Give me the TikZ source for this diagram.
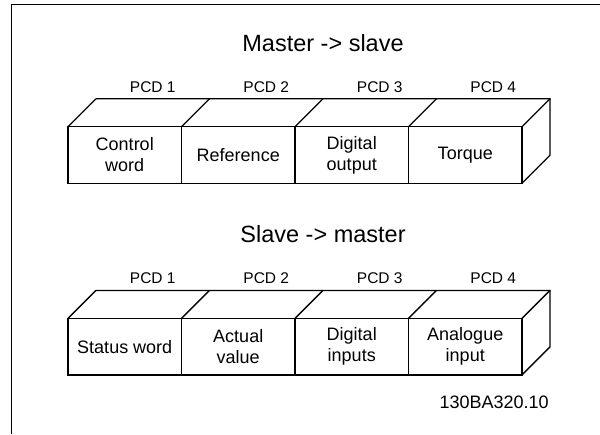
\documentclass[tikz,border=0pt]{standalone}
\usepackage{fontspec}
\setmainfont{Liberation Sans}
\usetikzlibrary{positioning,calc}

\begin{document}
\begin{tikzpicture}[x=0.5pt, y=-0.5pt,
    cell/.style={draw, line width=0.7pt, outer sep=0pt, minimum width=56.75pt, minimum height=28.25pt, align=center, font=\fontsize{9}{10.5}\selectfont},
    edge/.style={line width=0.7pt, line join=miter},
    pcd/.style={font=\fontsize{7.75}{9}\selectfont},
    heading/.style={font=\fontsize{11.75}{14}\selectfont}]
    \useasboundingbox (0,0) rectangle (600,434);
    % frame, only top and left edge are visible
    \draw[line width=0.5pt] (11,434) -- (11,4) -- (600,4);
    % Master -> slave
    \foreach \i/\txt in {1/{Control\\word}, 2/Reference, 3/{Digital\\output}, 4/Torque} {
        \node[cell] (ms\i) at ({11.25+113.5*\i}, 155) {\txt};
        \node[pcd] (mspcd\i) at ($(ms\i.north)+(28,-39.5)$) {PCD \i};
        \draw[edge] (ms\i.north west) -- ++(28,-28);
    }
    \draw[edge] ($(ms1.north west)+(28,-28)$) -- ($(ms4.north east)+(28,-28)$) -- ($(ms4.south east)+(28,-28)$) -- (ms4.south east);
    \draw[edge] (ms4.north east) -- ++(28,-28);
    \node[heading] (mstitle) at ($(ms2.north east)+(28,-84)$) {Master -> slave};
    % Slave -> master
    \foreach \i/\txt in {1/{Status word}, 2/{Actual\\value}, 3/{Digital\\inputs}, 4/{Analogue\\input}} {
        \node[cell] (sm\i) at ({11.25+113.5*\i}, 346.7) {\txt};
        \node[pcd] (smpcd\i) at ($(sm\i.north)+(28,-40.5)$) {PCD \i};
        \draw[edge] (sm\i.north west) -- ++(28,-28);
    }
    \draw[edge] ($(sm1.north west)+(28,-28)$) -- ($(sm4.north east)+(28,-28)$) -- ($(sm4.south east)+(28,-28)$) -- (sm4.south east);
    \draw[edge] (sm4.north east) -- ++(28,-28);
    \node[heading] (smtitle) at ($(sm2.north east)+(28,-84)$) {Slave -> master};
    \node[font=\fontsize{9}{10.5}\selectfont, inner sep=0pt, anchor=east] (code) at ($(sm4.south east)+(27,27)$) {130BA320.10};
\end{tikzpicture}
\end{document}
